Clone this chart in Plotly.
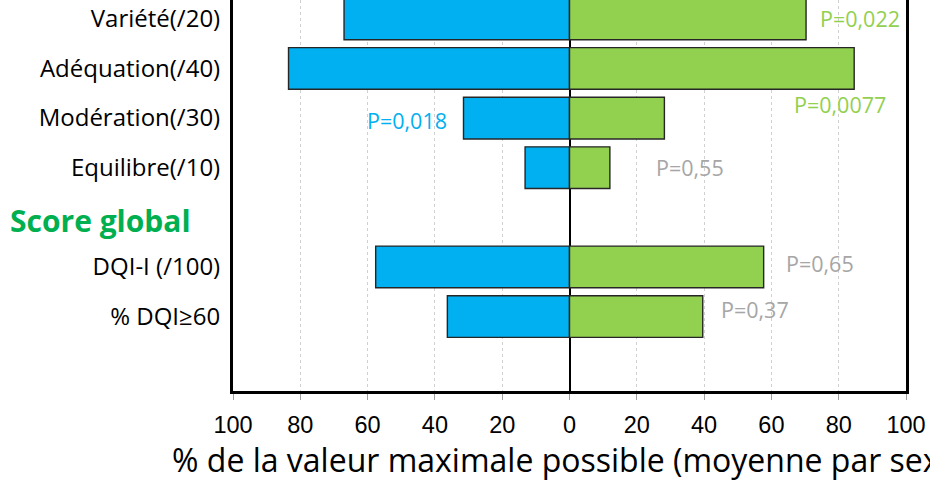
import plotly.graph_objects as go

# Categories, bottom to top (blank rows keep the layout spacing)
categories = ["   ", "% DQI≥60", "DQI-I (/100)", "  ", "Equilibre(/10)",
              "Modération(/30)", "Adéquation(/40)", "Variété(/20)"]
# Left side (blue) values, % of max possible
blue_values = [None, 36.3, 57.6, None, 13.2, 31.5, 83.5, 67.0]
# Right side (green) values
green_values = [None, 39.6, 57.7, None, 12.0, 28.2, 84.6, 70.3]

tick_values = [-100, -80, -60, -40, -20, 0, 20, 40, 60, 80, 100]
tick_labels = ["100", "80", "60", "40", "20", "0", "20", "40", "60", "80", "100"]

p_texts = ["P=0,022", "P=0,0077", "P=0,018", "P=0,55", "P=0,65", "P=0,37"]

BLUE = "#00B0F0"
GREEN = "#92D050"
GRAY = "#A6A6A6"

fig = go.Figure()
fig.add_trace(go.Bar(
    y=categories, x=[-v if v is not None else None for v in blue_values],
    orientation="h", marker=dict(color=BLUE, line=dict(color="#262626", width=1.4)),
    hoverinfo="skip", showlegend=False))
fig.add_trace(go.Bar(
    y=categories, x=green_values,
    orientation="h", marker=dict(color=GREEN, line=dict(color="#262626", width=1.4)),
    hoverinfo="skip", showlegend=False))

# annotation placement: (x, y index, anchor, color)
p_places = [
    (73.7, 7.0, "left", GREEN),
    (66.1, 5.27, "left", GREEN),
    (-35.8, 4.95, "right", BLUE),
    (25.0, 4.0, "left", GRAY),
    (63.6, 2.06, "left", GRAY),
    (44.3, 1.15, "left", GRAY),
]
for txt, (px, py, anc, col) in zip(p_texts, p_places):
    fig.add_annotation(x=px, y=py, text=txt, showarrow=False, xanchor=anc,
                       yanchor="middle", xref="x", yref="y",
                       font=dict(family="Open Sans", size=21.5, color=col))

L, R = 233, 24
fig.add_annotation(x=(8 - L) / (930 - L - R), y=2.93, xref="paper", yref="y",
                   text="<b>Score global</b>",
                   showarrow=False, xanchor="left", yanchor="middle",
                   font=dict(family="Open Sans", size=30, color="#00B050"))

fig.update_layout(
    width=930, height=483,
    margin=dict(l=L, r=R, t=0, b=92),
    paper_bgcolor="white", plot_bgcolor="white",
    barmode="overlay", bargap=0.16,
    xaxis=dict(
        range=[-100, 100], tickvals=tick_values, ticktext=tick_labels,
        showgrid=True, gridcolor="#D0D0D0", griddash="dot", gridwidth=1,
        zeroline=True, zerolinecolor="black", zerolinewidth=2,
        showline=True, linecolor="black", linewidth=3, mirror=False,
        ticks="outside", ticklen=6, tickcolor="#A0A0A0", tickwidth=1,
        ticklabelstandoff=5,
        tickfont=dict(family="Liberation Sans", size=23.5, color="black"),
        title=dict(text="% de la valeur maximale possible (moyenne par sexe)",
                   font=dict(family="Open Sans", size=32, color="black"),
                   standoff=9),
        fixedrange=True,
    ),
    yaxis=dict(
        type="category", categoryorder="array", categoryarray=categories,
        range=[-0.5, 7.38],
        showline=True, linecolor="black", linewidth=3, mirror=True,
        showgrid=False, ticks="", ticklabelstandoff=5,
        tickfont=dict(family="Open Sans", size=24, color="black"),
        fixedrange=True,
    ),
)

fig.write_html("out.html", config={"displayModeBar": False},
               post_script="document.body.style.margin='0';document.body.style.overflow='hidden';")
